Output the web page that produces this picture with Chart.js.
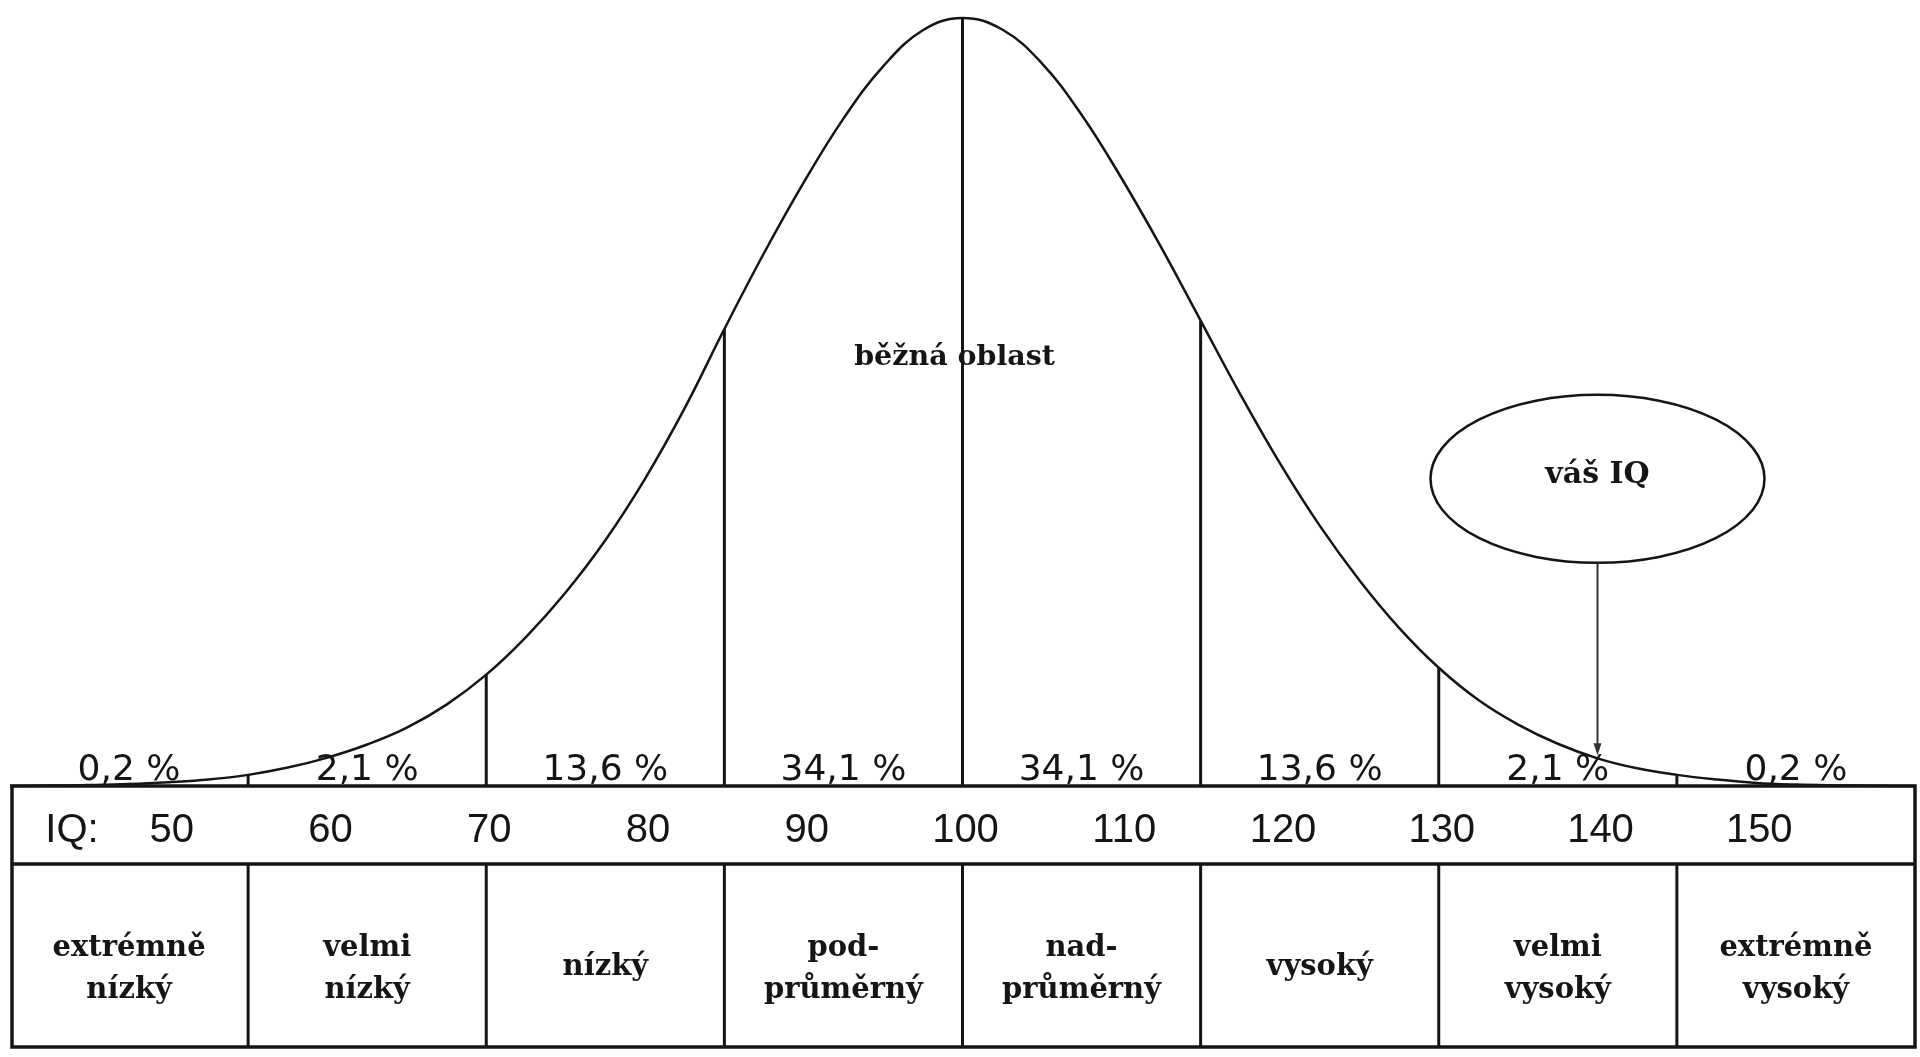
<!DOCTYPE html>
<html>
<head>
<meta charset="utf-8">
<script src="https://cdn.jsdelivr.net/npm/chart.js@4.4.1/dist/chart.umd.min.js"></script>
<style>
  html, body { margin: 0; padding: 0; background: #fff; }
  canvas { display: block; }
</style>
</head>
<body>
<canvas id="myChart" width="1920" height="1057"></canvas>
<script>
// curve: IQ -> relative height (peak = 100)
const iqPoints = [40, 42.5, 45, 47.5, 50, 52.5, 55, 57.5, 60, 62.5, 65, 67.5, 70, 72.5, 75, 77.5, 80, 82.5, 85, 87.5,
                  90, 92.5, 95, 97.5, 100, 102.5, 105, 107.5, 110, 112.5, 115, 117.5, 120, 122.5, 125, 127.5, 130,
                  132.5, 135, 137.5, 140, 142.5, 145, 147.5, 150, 152.5, 155, 157.5, 160];
const curveHeights = [0, 0.05, 0.12, 0.25, 0.5, 0.85, 1.45, 2.4, 3.7, 5.4, 7.6, 10.6, 14.5, 19.4, 25.2, 32.0, 40.0, 49.2, 59.5, 69.4,
                      78.6, 86.9, 93.7, 98.4, 100, 98.5, 94.1, 87.4, 79.2, 70.2, 60.6, 51.0, 42.0, 33.9, 26.8, 20.6, 15.4,
                      11.2, 8.0, 5.5, 3.6, 2.3, 1.45, 0.85, 0.4, 0.18, 0.08, 0.03, 0];

const bandEdges = [40, 55, 70, 85, 100, 115, 130, 145, 160];
const bandShares = ['0,2 %', '2,1 %', '13,6 %', '34,1 %', '34,1 %', '13,6 %', '2,1 %', '0,2 %'];
const bandNames = [['extrémně', 'nízký'], ['velmi', 'nízký'], ['nízký'], ['pod-', 'průměrný'],
                   ['nad-', 'průměrný'], ['vysoký'], ['velmi', 'vysoký'], ['extrémně', 'vysoký']];
const iqTicks = [50, 60, 70, 80, 90, 100, 110, 120, 130, 140, 150];
const yourIQ = 140;

const heightAt = iq => curveHeights[iqPoints.indexOf(iq)];

const ink = '#151515';

const datasets = [{
  label: 'curve',
  data: iqPoints.map((v, i) => ({ x: v, y: curveHeights[i] })),
  borderColor: ink,
  borderWidth: 2.5,
  pointRadius: 0,
  tension: 0.4,
  fill: false,
  clip: false
}];

bandEdges.slice(1, -1).forEach(iq => {
  datasets.push({
    label: 'divider ' + iq,
    data: [{ x: iq, y: 0 }, { x: iq, y: heightAt(iq) }],
    borderColor: ink,
    borderWidth: 3,
    pointRadius: 0,
    clip: false
  });
});

const tablePlugin = {
  id: 'iqTable',
  beforeDraw: (chart) => {
    const ctx = chart.ctx;
    ctx.save();
    ctx.fillStyle = '#fff';
    ctx.fillRect(0, 0, chart.width, chart.height);
    ctx.restore();
  },
  afterDatasetsDraw: (chart) => {
    const ctx = chart.ctx;
    const x = chart.scales.x;
    const y = chart.scales.y;
    const top = chart.chartArea.bottom;
    const split = top + 78;
    const bottom = top + 261;
    const left = x.getPixelForValue(bandEdges[0]) + 2;
    const right = x.getPixelForValue(bandEdges[bandEdges.length - 1]);

    ctx.save();
    ctx.strokeStyle = ink;
    ctx.lineWidth = 3.5;
    ctx.strokeRect(left, top, right - left, bottom - top);
    ctx.beginPath();
    ctx.moveTo(left, split);
    ctx.lineTo(right, split);
    ctx.stroke();

    ctx.lineWidth = 3;
    bandEdges.slice(1, -1).forEach(v => {
      const px = x.getPixelForValue(v);
      ctx.beginPath();
      ctx.moveTo(px, split);
      ctx.lineTo(px, bottom);
      ctx.stroke();
    });

    ctx.fillStyle = ink;
    ctx.textAlign = 'center';
    ctx.textBaseline = 'alphabetic';

    // shares above the table
    ctx.font = '36px "DejaVu Sans"';
    bandShares.forEach((s, i) => {
      const cx = x.getPixelForValue((bandEdges[i] + bandEdges[i + 1]) / 2);
      ctx.fillText(s, cx, top - 6);
    });

    // IQ row
    ctx.font = '40px "Liberation Sans"';
    ctx.fillText('IQ:', left + 60, top + 56);
    iqTicks.forEach(t => ctx.fillText(String(t), x.getPixelForValue(t) + 3, top + 56));

    // category names
    ctx.font = 'bold 29px "DejaVu Serif"';
    bandNames.forEach((lines, i) => {
      const cx = x.getPixelForValue((bandEdges[i] + bandEdges[i + 1]) / 2);
      if (lines.length === 1) {
        ctx.fillText(lines[0], cx, top + 189);
      } else {
        ctx.fillText(lines[0], cx, top + 170);
        ctx.fillText(lines[1], cx, top + 212);
      }
    });

    // centre label
    ctx.font = 'bold 28.5px "DejaVu Serif"';
    ctx.fillText('běžná oblast', x.getPixelForValue(99.5), y.getPixelForValue(54.8));

    // "your IQ" bubble with arrow
    const ex = x.getPixelForValue(yourIQ);
    const ey = y.getPixelForValue(40);
    ctx.lineWidth = 2.5;
    ctx.beginPath();
    ctx.ellipse(ex, ey, 167, 84, 0, 0, Math.PI * 2);
    ctx.stroke();
    ctx.font = 'bold 30px "DejaVu Serif"';
    ctx.fillText('váš IQ', ex, ey + 4);

    const tipY = y.getPixelForValue(heightAt(yourIQ)) - 3;
    ctx.strokeStyle = '#333';
    ctx.lineWidth = 2;
    ctx.beginPath();
    ctx.moveTo(ex, ey + 84);
    ctx.lineTo(ex, tipY - 8);
    ctx.stroke();
    ctx.fillStyle = '#333';
    ctx.beginPath();
    ctx.moveTo(ex - 4, tipY - 12);
    ctx.lineTo(ex + 4, tipY - 12);
    ctx.lineTo(ex, tipY);
    ctx.closePath();
    ctx.fill();
    ctx.restore();
  }
};

const chart = new Chart(document.getElementById('myChart'), {
  type: 'line',
  data: { datasets: datasets },
  options: {
    responsive: false,
    animation: false,
    devicePixelRatio: 1,
    layout: { padding: { left: 10, right: 5, top: 18, bottom: 271 } },
    plugins: { legend: { display: false }, tooltip: { enabled: false } },
    scales: {
      x: { type: 'linear', min: 40, max: 160, display: false },
      y: { type: 'linear', min: 0, max: 100, display: false }
    }
  },
  plugins: [tablePlugin]
});
</script>
</body>
</html>
